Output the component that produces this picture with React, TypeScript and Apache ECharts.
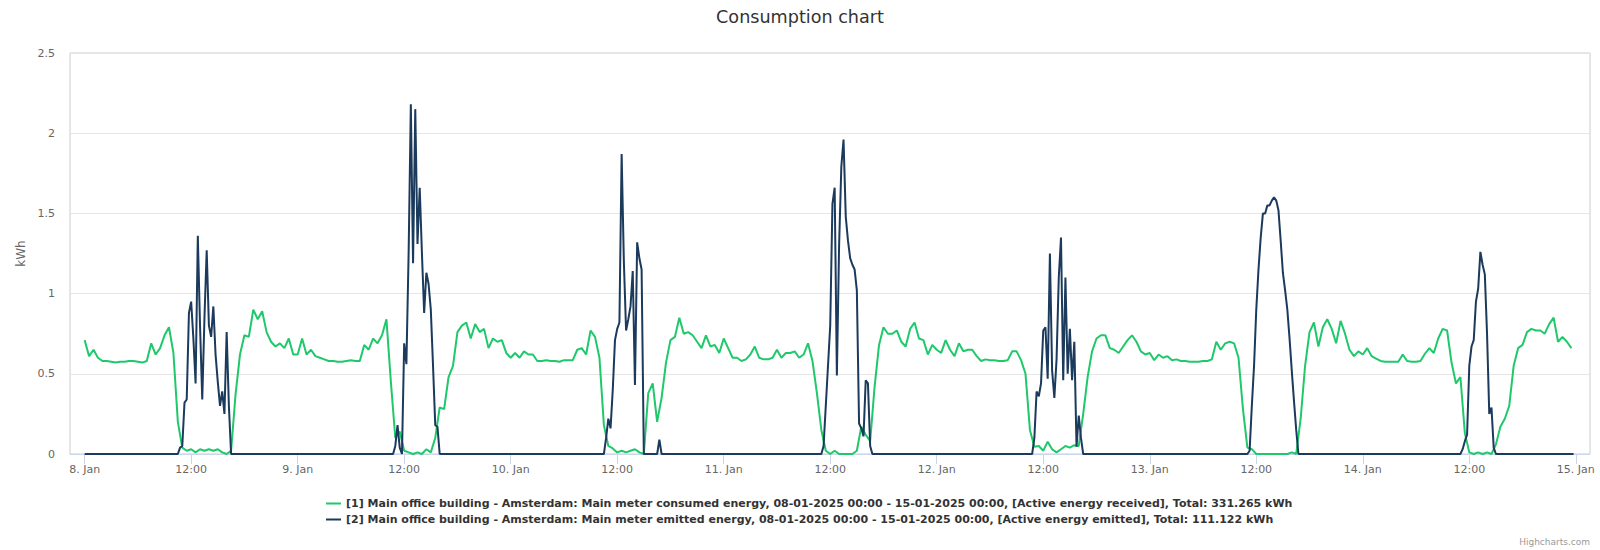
import React, { useEffect, useRef } from "react";
import * as echarts from "echarts";

// X-axis tick labels (every 12 hours from 8 Jan 00:00)
const dayLabels = ["8. Jan", "9. Jan", "10. Jan", "11. Jan", "12. Jan", "13. Jan", "14. Jan", "15. Jan"];
const noonLabel = "12:00";
const yTicks = [0, 0.5, 1, 1.5, 2, 2.5];

// Consumed energy, half-hourly readings (00:00 ... 23:30), kWh
const consumedDay1 = [0.71, 0.61, 0.65, 0.60, 0.58, 0.58, 0.575, 0.57, 0.575, 0.575, 0.58, 0.58, 0.575, 0.57, 0.58, 0.69, 0.62, 0.66, 0.74, 0.79, 0.63, 0.20, 0.04, 0.02, 0.03, 0.01, 0.03, 0.02, 0.03, 0.02, 0.03, 0.01, 0.0, 0.02, 0.37, 0.62, 0.74, 0.73, 0.90, 0.84, 0.89, 0.76, 0.70, 0.67, 0.69, 0.66, 0.72, 0.62];
const consumedDay2 = [0.62, 0.72, 0.62, 0.65, 0.61, 0.60, 0.59, 0.58, 0.58, 0.575, 0.575, 0.58, 0.585, 0.58, 0.58, 0.68, 0.65, 0.72, 0.69, 0.74, 0.84, 0.45, 0.10, 0.14, 0.02, 0.01, 0.0, 0.01, 0.0, 0.03, 0.01, 0.10, 0.29, 0.28, 0.48, 0.55, 0.76, 0.80, 0.82, 0.72, 0.81, 0.76, 0.78, 0.66, 0.72, 0.70, 0.71, 0.63];
const consumedDay3 = [0.60, 0.63, 0.60, 0.64, 0.62, 0.62, 0.58, 0.58, 0.585, 0.58, 0.58, 0.575, 0.585, 0.585, 0.585, 0.65, 0.66, 0.62, 0.77, 0.73, 0.60, 0.18, 0.05, 0.035, 0.01, 0.02, 0.01, 0.02, 0.03, 0.01, 0.0, 0.38, 0.44, 0.20, 0.35, 0.57, 0.71, 0.73, 0.85, 0.75, 0.76, 0.74, 0.70, 0.66, 0.74, 0.67, 0.68, 0.63];
const consumedDay4 = [0.72, 0.66, 0.60, 0.60, 0.58, 0.59, 0.62, 0.67, 0.60, 0.59, 0.59, 0.60, 0.65, 0.60, 0.63, 0.63, 0.64, 0.60, 0.62, 0.69, 0.58, 0.38, 0.15, 0.02, 0.0, 0.02, 0.0, 0.0, 0.0, 0.0, 0.02, 0.17, 0.12, 0.08, 0.42, 0.68, 0.79, 0.75, 0.75, 0.77, 0.70, 0.67, 0.78, 0.82, 0.72, 0.71, 0.62, 0.68];
const consumedDay5 = [0.65, 0.63, 0.71, 0.65, 0.61, 0.69, 0.64, 0.65, 0.65, 0.61, 0.58, 0.59, 0.585, 0.585, 0.58, 0.58, 0.585, 0.64, 0.64, 0.585, 0.50, 0.15, 0.045, 0.05, 0.02, 0.077, 0.03, 0.01, 0.03, 0.05, 0.04, 0.055, 0.05, 0.25, 0.48, 0.64, 0.72, 0.74, 0.74, 0.66, 0.65, 0.63, 0.67, 0.71, 0.74, 0.70, 0.64, 0.62];
const consumedDay6 = [0.63, 0.585, 0.62, 0.60, 0.61, 0.585, 0.59, 0.58, 0.58, 0.575, 0.575, 0.575, 0.58, 0.58, 0.59, 0.70, 0.65, 0.69, 0.70, 0.69, 0.60, 0.28, 0.04, 0.03, 0.0, 0.0, 0.0, 0.0, 0.0, 0.0, 0.0, 0.0, 0.01, 0.0, 0.22, 0.55, 0.76, 0.82, 0.67, 0.79, 0.84, 0.78, 0.69, 0.83, 0.75, 0.65, 0.61, 0.64];
const consumedDay7 = [0.62, 0.66, 0.61, 0.595, 0.58, 0.575, 0.575, 0.575, 0.575, 0.62, 0.58, 0.575, 0.575, 0.58, 0.625, 0.66, 0.63, 0.72, 0.78, 0.77, 0.57, 0.44, 0.48, 0.13, 0.01, 0.0, 0.01, 0.0, 0.01, 0.0, 0.06, 0.17, 0.22, 0.30, 0.55, 0.66, 0.68, 0.76, 0.78, 0.77, 0.77, 0.75, 0.81, 0.85, 0.70, 0.73, 0.70, 0.66];

// Emitted energy, quarter-hourly readings during the daylight window (starting hour per day), kWh
const emittedStartHour = [10.5, 10.75, 10.5, 11, 10.75, 11, 11];
const emittedDay1 = [0, 0.04, 0.05, 0.32, 0.34, 0.88, 0.95, 0.72, 0.44, 1.36, 0.80, 0.34, 0.85, 1.27, 0.80, 0.73, 0.92, 0.62, 0.45, 0.30, 0.39, 0.25, 0.76, 0.30, 0];
const emittedDay2 = [0, 0.05, 0.18, 0.04, 0, 0.69, 0.56, 1.25, 2.18, 1.19, 2.15, 1.31, 1.66, 1.25, 0.88, 1.13, 1.06, 0.90, 0.55, 0.18, 0.17, 0, 0];
const emittedDay3 = [0, 0.10, 0.22, 0.16, 0.40, 0.71, 0.78, 0.82, 1.87, 1.2, 0.77, 0.84, 0.92, 1.14, 0.43, 1.32, 1.22, 1.15, 0, 0, 0, 0, 0, 0, 0, 0.09, 0];
const emittedDay4 = [0, 0.05, 0.30, 0.55, 0.80, 1.56, 1.66, 0.49, 1.30, 1.79, 1.96, 1.48, 1.33, 1.22, 1.18, 1.15, 1.02, 0.19, 0.16, 0.11, 0.46, 0.44, 0.05, 0];
const emittedDay5 = [0, 0.10, 0.39, 0.36, 0.44, 0.77, 0.79, 0.47, 1.25, 0.52, 0.35, 0.59, 1.10, 1.35, 0.46, 1.10, 0.50, 0.78, 0.46, 0.70, 0.045, 0.24, 0.10, 0];
const emittedDay6 = [0, 0.02, 0.30, 0.55, 0.90, 1.15, 1.35, 1.50, 1.50, 1.55, 1.55, 1.58, 1.60, 1.58, 1.52, 1.33, 1.13, 1.02, 0.90, 0.72, 0.52, 0.33, 0.15, 0];
const emittedDay7 = [0, 0.03, 0.08, 0.12, 0.55, 0.67, 0.71, 0.95, 1.03, 1.26, 1.18, 1.12, 0.75, 0.25, 0.29, 0.04, 0];
const emittedNightValue = 0;

const consumedName = "[1] Main office building - Amsterdam: Main meter consumed energy, 08-01-2025 00:00 - 15-01-2025 00:00, [Active energy received], Total: 331.265 kWh";
const emittedName = "[2] Main office building - Amsterdam: Main meter emitted energy, 08-01-2025 00:00 - 15-01-2025 00:00, [Active energy emitted], Total: 111.122 kWh";

const FONT = "DejaVu Sans";
const GREEN = "#1fc86a";
const NAVY = "#1b3a5c";

export default function App() {
  const ref = useRef<HTMLDivElement>(null);

  useEffect(() => {
    document.body.style.margin = "0";
    if (!ref.current) return;
    const chart = echarts.init(ref.current, null, { renderer: "svg" });

    const consumedDays = [consumedDay1, consumedDay2, consumedDay3, consumedDay4, consumedDay5, consumedDay6, consumedDay7];
    const consumed: [number, number][] = [];
    consumedDays.forEach((day, d) => day.forEach((v, i) => consumed.push([d * 24 + i * 0.5, v])));

    const emittedDays = [emittedDay1, emittedDay2, emittedDay3, emittedDay4, emittedDay5, emittedDay6, emittedDay7];
    const emitted: [number, number][] = [[0, emittedNightValue]];
    emittedDays.forEach((day, d) =>
      day.forEach((v, i) => emitted.push([d * 24 + emittedStartHour[d] + i * 0.25, v]))
    );
    emitted.push([167.75, emittedNightValue]);

    const tickHours = dayLabels.flatMap((_, i) => (i < dayLabels.length - 1 ? [i * 24, i * 24 + 12] : [i * 24]));

    const option: any = {
      animation: false,
      backgroundColor: "#ffffff",
      textStyle: { fontFamily: FONT },
      title: {
        text: "Consumption chart",
        left: "center",
        top: 3,
        textStyle: { fontFamily: FONT, fontSize: 17.6, fontWeight: "normal", color: "#333333" },
      },
      grid: {
        left: 70,
        right: 10,
        top: 53,
        bottom: 96,
        show: true,
        borderColor: "#cccccc",
        borderWidth: 1,
        containLabel: false,
      },
      xAxis: {
        type: "value",
        min: -1.65,
        max: 169.6,
        axisLine: { show: true, lineStyle: { color: "#ccd6eb" } },
        axisTick: {
          show: true,
          customValues: tickHours,
          length: 10,
          lineStyle: { color: "#ccd6eb" },
        },
        axisLabel: {
          customValues: tickHours,
          color: "#666666",
          fontSize: 11,
          fontFamily: FONT,
          margin: 10,
          formatter: (v: number) => (Math.round(v) % 24 === 0 ? dayLabels[Math.round(v) / 24] : noonLabel),
        },
        splitLine: { show: false },
      },
      yAxis: {
        type: "value",
        min: yTicks[0],
        max: yTicks[yTicks.length - 1],
        interval: 0.5,
        name: "kWh",
        nameLocation: "middle",
        nameRotate: 90,
        nameGap: 42,
        nameTextStyle: { color: "#666666", fontSize: 12, fontFamily: FONT },
        axisLine: { show: false },
        axisTick: { show: false },
        axisLabel: { color: "#666666", fontSize: 11, fontFamily: FONT, margin: 15 },
        splitLine: { show: true, lineStyle: { color: "#e6e6e6", width: 1 } },
      },
      legend: {
        orient: "vertical",
        left: 321,
        top: 493,
        itemGap: 5,
        itemWidth: 15,
        itemHeight: 2,
        icon: "rect",
        textStyle: { fontFamily: FONT, fontSize: 11, fontWeight: "bold", color: "#333333" },
        data: [
          { name: consumedName, itemStyle: { color: GREEN } },
          { name: emittedName, itemStyle: { color: NAVY } },
        ],
      },
      graphic: [
        {
          type: "text",
          right: 10,
          top: 537,
          style: { text: "Highcharts.com", fill: "#999999", fontSize: 9, fontFamily: FONT },
        },
      ],
      series: [
        {
          name: consumedName,
          type: "line",
          data: consumed,
          symbol: "none",
          lineStyle: { width: 2, color: GREEN },
          itemStyle: { color: GREEN },
        },
        {
          name: emittedName,
          type: "line",
          data: emitted,
          symbol: "none",
          lineStyle: { width: 2, color: NAVY },
          itemStyle: { color: NAVY },
        },
      ],
    };

    chart.setOption(option);
    return () => chart.dispose();
  }, []);

  return <div ref={ref} style={{ width: 1600, height: 550 }} />;
}
